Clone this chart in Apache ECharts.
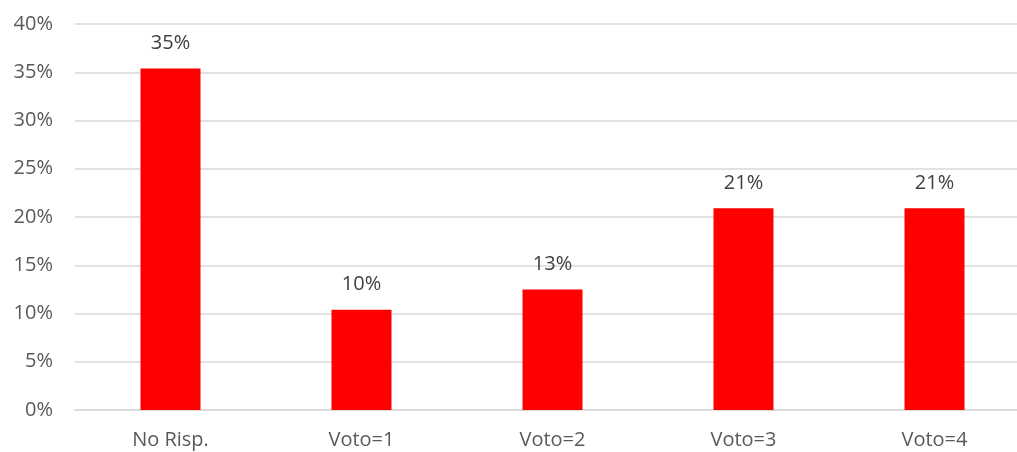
<!DOCTYPE html>
<html><head><meta charset="utf-8">
<script src="https://cdn.jsdelivr.net/npm/echarts@6/dist/echarts.min.js"></script>
<style>html,body{margin:0;padding:0;background:#fff}#c{width:1017px;height:452px}</style>
</head><body><div id="c"></div>
<script>
const categories = ["No Risp.", "Voto=1", "Voto=2", "Voto=3", "Voto=4"];
const values = [35.4, 10.4, 12.5, 20.9, 20.9];
const yTicks = [0, 5, 10, 15, 20, 25, 30, 35, 40];

const chart = echarts.init(document.getElementById('c'), null, {renderer: 'canvas'});
chart.setOption({
  animation: false,
  grid: {left: 75, top: 24, width: 955, bottom: 42, containLabel: false, outerBoundsMode: 'none'},
  xAxis: {
    type: 'category', data: categories,
    axisLine: {lineStyle: {color: '#d9d9d9', width: 1.5}},
    axisTick: {show: false},
    axisLabel: {color: '#595959', fontSize: 20, fontFamily: 'Open Sans', margin: 20}
  },
  yAxis: {
    type: 'value', min: yTicks[0], max: yTicks[yTicks.length - 1], interval: 5,
    axisLine: {show: false}, axisTick: {show: false},
    splitLine: {lineStyle: {color: '#d9d9d9', width: 1.5}},
    axisLabel: {color: '#595959', fontSize: 20, fontFamily: 'Open Sans', margin: 22, formatter: v => v + '%'}
  },
  series: [{
    type: 'bar', data: values, barWidth: 60,
    itemStyle: {color: '#ff0000'},
    label: {show: true, position: 'top', distance: 15, color: '#404040', fontSize: 20, fontFamily: 'Open Sans',
      formatter: p => Math.round(p.value) + '%'}
  }]
});
</script></body></html>
